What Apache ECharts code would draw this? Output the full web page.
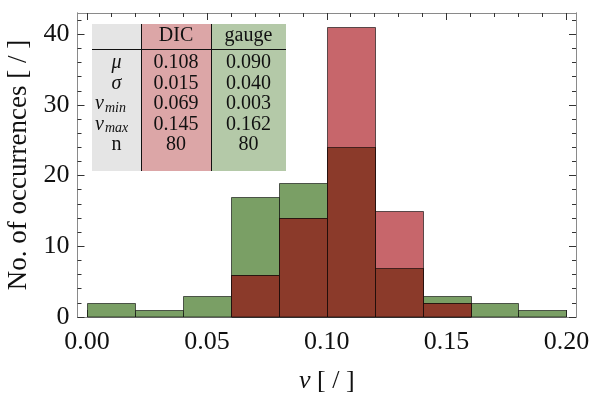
<!DOCTYPE html>
<html>
<head>
<meta charset="utf-8">
<script src="https://cdn.jsdelivr.net/npm/echarts@6/dist/echarts.min.js"></script>
<style>
  html, body { margin: 0; padding: 0; background: #fff; }
  #main { width: 591px; height: 394px; }
</style>
</head>
<body>
<div id="main"></div>
<script>
// histogram bins (left edges) and counts per bin
const binStarts = [0.00, 0.02, 0.04, 0.06, 0.08, 0.10, 0.12, 0.14, 0.16, 0.18];
const binWidth = 0.02;
const gaugeCounts = [2, 1, 3, 17, 19, 24, 7, 3, 2, 1];
const dicCounts = [0, 0, 0, 6, 14, 41, 15, 2, 0, 0];

// axis ticks
const xMajorTicks = [0, 0.05, 0.10, 0.15, 0.20];
const xMinorTicks = [0.01, 0.02, 0.03, 0.04, 0.06, 0.07, 0.08, 0.09, 0.11, 0.12, 0.13, 0.14, 0.16, 0.17, 0.18, 0.19];
const yMajorTicks = [0, 10, 20, 30, 40];
const yMinorTicks = [2, 4, 6, 8, 12, 14, 16, 18, 22, 24, 26, 28, 32, 34, 36, 38, 42];

// inset table
const tableHeaders = ['DIC', 'gauge'];
const statSymbols = ['μ', 'σ', 'ν', 'ν', 'n'];
const statSubscripts = ['', '', 'min', 'max', ''];
const dicStats = ['0.108', '0.015', '0.069', '0.145', '80'];
const gaugeStats = ['0.090', '0.040', '0.003', '0.162', '80'];

const serif = '"Liberation Serif", "DejaVu Serif", serif';
const xMin = -0.004, xMax = 0.204;
const yMin = 0, yMax = 43;

// overlap of both histograms is drawn in its own colour
const overlapCounts = binStarts.map((s, i) => Math.min(gaugeCounts[i], dicCounts[i]));

function binData(counts) {
  return binStarts
    .map((s, i) => [s, s + binWidth, counts[i]])
    .filter(d => d[2] > 0);
}

function barSeries(name, counts, color, z) {
  return {
    name: name,
    type: 'custom',
    z: z,
    renderItem: function (params, api) {
      let p0 = api.coord([api.value(0), api.value(2)]);
      let p1 = api.coord([api.value(1), 0]);
      let x0 = Math.round(p0[0]) + 0.5, x1 = Math.round(p1[0]) + 0.5;
      let y0 = Math.round(p0[1]) + 0.5, y1 = p1[1];
      return {
        type: 'rect',
        shape: { x: x0, y: y0, width: x1 - x0, height: y1 - y0 },
        style: { fill: color, stroke: 'rgba(0,0,0,0.6)', lineWidth: 1 }
      };
    },
    encode: { x: [0, 1], y: 2 },
    data: binData(counts)
  };
}

function xAxisDef(position, ticks, len, showLabel) {
  return {
    type: 'value', position: position, min: xMin, max: xMax,
    axisLine: { show: true, onZero: false, lineStyle: { color: '#8a8a8a', width: 1 } },
    axisTick: { show: true, inside: true, length: len, customValues: ticks, lineStyle: { color: '#333' } },
    axisLabel: {
      show: showLabel, customValues: ticks, margin: 12,
      fontFamily: serif, fontSize: 26, color: '#111',
      formatter: v => v.toFixed(2)
    },
    splitLine: { show: false }
  };
}

function yAxisDef(position, ticks, len, showLabel) {
  return {
    type: 'value', position: position, min: yMin, max: yMax,
    axisLine: { show: true, onZero: false, lineStyle: { color: '#8a8a8a', width: 1 } },
    axisTick: { show: true, inside: true, length: len, customValues: ticks, lineStyle: { color: '#333' } },
    axisLabel: {
      show: showLabel, customValues: ticks, margin: 8,
      fontFamily: serif, fontSize: 26, color: '#111'
    },
    splitLine: { show: false }
  };
}

let xAxes = [
  xAxisDef('bottom', xMajorTicks, 7, true),
  xAxisDef('bottom', xMinorTicks, 4, false),
  xAxisDef('top', xMajorTicks, 7, false),
  xAxisDef('top', xMinorTicks, 4, false)
];
xAxes[0].name = '{i|ν} [ / ]';
xAxes[0].nameLocation = 'middle';
xAxes[0].nameGap = 51;
xAxes[0].nameTextStyle = {
  fontFamily: serif, fontSize: 26, color: '#111',
  rich: { i: { fontFamily: serif, fontSize: 26, fontStyle: 'italic', color: '#111' } }
};

let yAxes = [
  yAxisDef('left', yMajorTicks, 7, true),
  yAxisDef('left', yMinorTicks, 4, false),
  yAxisDef('right', yMajorTicks, 7, false),
  yAxisDef('right', yMinorTicks, 4, false)
];
yAxes[0].name = 'No. of occurrences [ / ]';
yAxes[0].nameLocation = 'middle';
yAxes[0].nameGap = 43;
yAxes[0].nameTextStyle = { fontFamily: serif, fontSize: 27, color: '#111' };

// inset table, built from the stat arrays
const tbl = { left: 92, top: 24, c1: 49, c2: 119, w: 194, h: 147, headY: 12, lineY: 25, rowY: [39, 59.5, 80, 100.5, 121] };
let tableChildren = [
  { type: 'rect', shape: { x: 0, y: 0, width: tbl.c1, height: tbl.h }, style: { fill: '#e5e5e5' } },
  { type: 'rect', shape: { x: tbl.c1, y: 0, width: tbl.c2 - tbl.c1, height: tbl.h }, style: { fill: '#dca6a7' } },
  { type: 'rect', shape: { x: tbl.c2, y: 0, width: tbl.w - tbl.c2, height: tbl.h }, style: { fill: '#b4c9a8' } },
  { type: 'line', shape: { x1: tbl.c1 + 0.5, y1: 0, x2: tbl.c1 + 0.5, y2: tbl.h }, style: { stroke: '#111', lineWidth: 1 } },
  { type: 'line', shape: { x1: tbl.c2 + 0.5, y1: 0, x2: tbl.c2 + 0.5, y2: tbl.h }, style: { stroke: '#111', lineWidth: 1 } },
  { type: 'line', shape: { x1: 0, y1: tbl.lineY + 0.5, x2: tbl.w, y2: tbl.lineY + 0.5 }, style: { stroke: '#111', lineWidth: 1 } }
];
let colCenters = [(tbl.c1 + tbl.c2) / 2, (tbl.c2 + tbl.w) / 2];
tableHeaders.forEach((h, j) => {
  tableChildren.push({
    type: 'text', x: colCenters[j], y: tbl.headY,
    style: { text: h, fontFamily: serif, fontSize: 20, fill: '#111', align: 'center', verticalAlign: 'middle' }
  });
});
statSymbols.forEach((sym, i) => {
  let y = tbl.rowY[i];
  let sub = statSubscripts[i];
  let italic = sym !== 'n';
  if (sub) {
    tableChildren.push({
      type: 'text', x: 3, y: y,
      style: { text: sym, fontFamily: serif, fontSize: 20, fontStyle: 'italic', fill: '#111', align: 'left', verticalAlign: 'middle' }
    });
    tableChildren.push({
      type: 'text', x: 13, y: y + 4,
      style: { text: sub, fontFamily: serif, fontSize: 14, fontStyle: 'italic', fill: '#111', align: 'left', verticalAlign: 'middle' }
    });
  } else {
    tableChildren.push({
      type: 'text', x: tbl.c1 / 2, y: y,
      style: { text: sym, fontFamily: serif, fontSize: 20, fontStyle: italic ? 'italic' : 'normal', fill: '#111', align: 'center', verticalAlign: 'middle' }
    });
  }
  [dicStats[i], gaugeStats[i]].forEach((v, j) => {
    tableChildren.push({
      type: 'text', x: colCenters[j], y: y,
      style: { text: v, fontFamily: serif, fontSize: 20, fill: '#111', align: 'center', verticalAlign: 'middle' }
    });
  });
});

let myChart = echarts.init(document.getElementById('main'), null, { renderer: 'canvas' });
let option = {
  animation: false,
  backgroundColor: '#fff',
  grid: { left: 77.5, right: 15, top: 13, bottom: 77, containLabel: false, outerBoundsMode: 'none' },
  xAxis: xAxes,
  yAxis: yAxes,
  series: [
    barSeries('gauge', gaugeCounts, '#7a9f65', 2),
    barSeries('DIC', dicCounts, '#c7666b', 3),
    barSeries('overlap', overlapCounts, '#8b3a2a', 4)
  ],
  graphic: [
    { type: 'group', x: tbl.left, y: tbl.top, z: 10, children: tableChildren }
  ]
};
myChart.setOption(option);
</script>
</body>
</html>
